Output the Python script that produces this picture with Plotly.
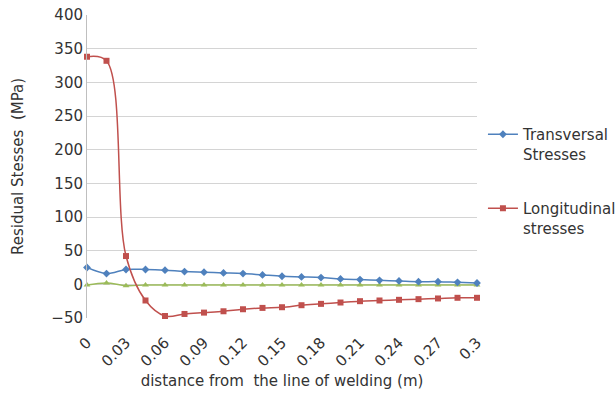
import plotly.graph_objects as go

x_vals = [round(i * 0.015, 3) for i in range(21)]
transversal = [25, 16, 22, 22, 21, 19, 18, 17, 16, 14, 12, 11, 10, 8, 7, 6, 5, 4, 4, 3, 2]
longitudinal = [338, 332, 42, -24, -47, -44, -42, -40, -37, -35, -34, -31, -29, -27, -25, -24, -23, -22, -21, -20, -20]
third = [-1, 2, -2, -1, -1, -1, -1, -1, -1, -1, -1, -1, -1, -1, -1, -1, -1, -1, -1, -1, -1]
tick_vals = [0, 0.03, 0.06, 0.09, 0.12, 0.15, 0.18, 0.21, 0.24, 0.27, 0.3]
tick_text = ["0", "0.03", "0.06", "0.09", "0.12", "0.15", "0.18", "0.21", "0.24", "0.27", "0.3"]

FONT = "DejaVu Sans"
TXT = "#333333"

fig = go.Figure()
fig.add_trace(go.Scatter(
    x=x_vals, y=third, mode="lines+markers", name="third", showlegend=False,
    line=dict(color="#9BBB59", width=1.5, shape="spline"),
    marker=dict(symbol="triangle-up", size=6, color="#9BBB59"), cliponaxis=False))
fig.add_trace(go.Scatter(
    x=x_vals, y=transversal, mode="lines+markers", name="Transversal<br>Stresses",
    legendgroup="a",
    line=dict(color="#4F81BD", width=1.5, shape="spline"),
    marker=dict(symbol="diamond", size=6, color="#4F81BD"), cliponaxis=False))
fig.add_trace(go.Scatter(
    x=x_vals, y=longitudinal, mode="lines+markers", name="Longitudinal<br>stresses",
    legendgroup="b",
    line=dict(color="#C0504D", width=1.5, shape="spline"),
    marker=dict(symbol="square", size=6, color="#C0504D"), cliponaxis=False))

fig.update_layout(
    width=616, height=399,
    margin=dict(l=87, r=139, t=15, b=81, autoexpand=False),
    paper_bgcolor="white", plot_bgcolor="white",
    font=dict(family=FONT, size=15, color=TXT),
    legend=dict(xref="container", yref="container", x=0.784, y=1 - 118 / 399,
                xanchor="left", yanchor="top", valign="top",
                traceorder="grouped", tracegroupgap=32,
                font=dict(family=FONT, size=15, color=TXT),
                bgcolor="rgba(0,0,0,0)", itemwidth=30),
    xaxis=dict(range=[0, 0.3], tickvals=tick_vals, ticktext=tick_text, automargin=False,
               tickangle=-45, showgrid=False, zeroline=False, showline=False,
               ticks="outside", ticklen=9, tickcolor="rgba(0,0,0,0)",
               tickfont=dict(family=FONT, size=15, color=TXT),
               title=dict(text="distance from  the line of welding (m)",
                          font=dict(family=FONT, size=15, color=TXT), standoff=6)),
    yaxis=dict(range=[-50, 400], dtick=50, showgrid=True, gridcolor="#d4d4d4", automargin=False,
               gridwidth=1, zeroline=False, showline=True, linecolor="#bfbfbf",
               linewidth=1, ticks="", tickfont=dict(family=FONT, size=15, color=TXT),
               title=dict(text="Residual Stesses  (MPa)",
                          font=dict(family=FONT, size=15, color=TXT), standoff=24)),
)
fig.write_html("out.html")
